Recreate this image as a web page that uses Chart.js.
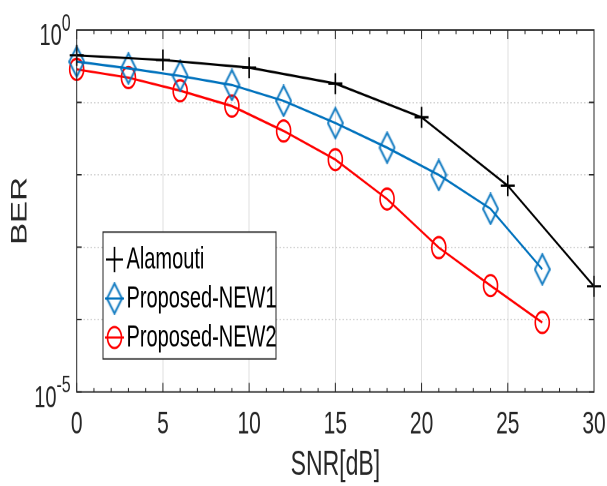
<!DOCTYPE html>
<html><head><meta charset="utf-8">
<script src="https://cdn.jsdelivr.net/npm/chart.js@4/dist/chart.umd.min.js"></script>
<style>
html,body{margin:0;padding:0;background:#fff;}
#wrap{width:607px;height:486px;position:relative;}
canvas{display:block;}
</style></head><body>
<div id="wrap"><canvas id="c" width="607" height="324"></canvas></div>
<script>
// ---- data ----
const snrAlamouti = [0, 5, 10, 15, 20, 25, 30];
const berAlamouti = [0.447, 0.385, 0.302, 0.182, 0.0622, 0.00708, 0.000288];
const snrProposed = [0, 3, 6, 9, 12, 15, 18, 21, 24, 27];
const berNew1 = [0.366, 0.295, 0.232, 0.174, 0.105, 0.0519, 0.0237, 0.00993, 0.00339, 0.000495];
const berNew2 = [0.286, 0.22, 0.145, 0.0891, 0.0403, 0.0162, 0.00463, 0.000986, 0.000295, 0.0000912];
const seriesNames = ['Alamouti', 'Proposed-NEW1', 'Proposed-NEW2'];
const xMajorStep = 5;
const yDecadeTicks = [1e-5, 1e-4, 1e-3, 1e-2, 1e-1, 1];
const yLabelTicks = [1, 1e-5];
const yLabelBase = '10';
const yLabelExponents = ['0', '-5'];
const xTitle = 'SNR[dB]';
const yTitle = 'BER';

const FONT = '"Liberation Sans", Arial, Helvetica, sans-serif';
Chart.defaults.font.family = FONT;
const AX = '#262626';

function diamondCanvas(color) {
  const w = 17, h = 22;
  const c = document.createElement('canvas');
  c.width = w; c.height = h;
  const g = c.getContext('2d');
  g.strokeStyle = color; g.lineWidth = 1.6;
  g.beginPath();
  g.moveTo(w / 2, 1); g.lineTo(w - 1, h / 2); g.lineTo(w / 2, h - 1); g.lineTo(1, h / 2); g.closePath();
  g.stroke();
  return c;
}
const diamond = diamondCanvas('#0072BD');

const toPts = (xs, ys) => xs.map((x, i) => ({x, y: ys[i]}));

const datasets = [
  {label: seriesNames[0], data: toPts(snrAlamouti, berAlamouti), borderColor: '#000000',
   pointStyle: 'cross', pointRadius: 7, pointBorderWidth: 1.6},
  {label: seriesNames[1], data: toPts(snrProposed, berNew1), borderColor: '#0072BD',
   pointStyle: diamond, pointRadius: 8, pointBorderWidth: 1.6},
  {label: seriesNames[2], data: toPts(snrProposed, berNew2), borderColor: '#FF0000',
   pointStyle: 'circle', pointRadius: 7, pointBorderWidth: 1.6}
].map(d => Object.assign({
  borderWidth: 1.6, pointBackgroundColor: 'rgba(0,0,0,0)', pointBorderColor: d.borderColor,
  backgroundColor: 'rgba(0,0,0,0)', tension: 0, clip: false, showLine: true, fill: false
}, d));

const boxPlugin = {
  id: 'boxPlugin',
  afterDraw(chart) {
    const {ctx, chartArea: a, scales: {x, y}} = chart;
    ctx.save();
    ctx.strokeStyle = AX; ctx.lineWidth = 1;
    ctx.strokeRect(a.left, a.top, a.width, a.height);
    ctx.beginPath();
    x.ticks.forEach(t => {
      const px = x.getPixelForValue(t.value);
      const L = t.value % xMajorStep === 0 ? 6 : 2.7;
      ctx.moveTo(px, a.bottom); ctx.lineTo(px, a.bottom - L);
      ctx.moveTo(px, a.top); ctx.lineTo(px, a.top + L);
    });
    y.ticks.forEach(t => {
      const py = y.getPixelForValue(t.value);
      ctx.moveTo(a.left, py); ctx.lineTo(a.left + 5, py);
      ctx.moveTo(a.right, py); ctx.lineTo(a.right - 5, py);
    });
    ctx.stroke();

    // y tick labels 10^n
    ctx.fillStyle = AX;
    ctx.textBaseline = 'middle';
    ctx.textAlign = 'right';
    yLabelTicks.forEach((v, i) => {
      const py = y.getPixelForValue(v);
      const rx = a.left - 6;
      ctx.font = '16px ' + FONT;
      const ew = ctx.measureText(yLabelExponents[i]).width;
      ctx.fillText(yLabelExponents[i], rx, py + 4.5 - 8.5);
      ctx.font = '20px ' + FONT;
      ctx.fillText(yLabelBase, rx - ew, py + 4.5);
    });

    // legend
    const lx0 = 103, lx1 = 276, ly0 = 154.7, ly1 = 239.3;
    ctx.fillStyle = '#ffffff';
    ctx.fillRect(lx0, ly0, lx1 - lx0, ly1 - ly0);
    ctx.strokeStyle = AX; ctx.lineWidth = 1;
    ctx.strokeRect(lx0, ly0, lx1 - lx0, ly1 - ly0);
    const rows = [173, 199, 225];
    chart.data.datasets.forEach((ds, i) => {
      const yy = rows[i];
      ctx.strokeStyle = ds.borderColor; ctx.lineWidth = ds.borderWidth;
      if (i > 0) {
        ctx.beginPath(); ctx.moveTo(105, yy); ctx.lineTo(124, yy); ctx.stroke();
      }
      ctx.fillStyle = 'rgba(0,0,0,0)';
      Chart.helpers.drawPoint(ctx, {pointStyle: ds.pointStyle, radius: ds.pointRadius + (i === 0 ? 1.5 : 0),
        borderWidth: ds.pointBorderWidth, rotation: 0}, 114.5, yy);
      ctx.fillStyle = '#000000';
      ctx.font = '20px ' + FONT;
      ctx.textAlign = 'left'; ctx.textBaseline = 'middle';
      ctx.fillText(ds.label, 126.5, yy + 0.5);
    });
    ctx.restore();
  }
};

const canvas = document.getElementById('c');
new Chart(canvas, {
  type: 'line',
  data: {datasets},
  plugins: [boxPlugin],
  options: {
    responsive: false, animation: false, devicePixelRatio: 2,
    layout: {padding: {top: 20, right: 13, bottom: 0, left: 0}},
    plugins: {legend: {display: false}, tooltip: {enabled: false}},
    scales: {
      x: {
        type: 'linear', min: 0, max: 30,
        afterFit: s => { s.height = 62.7; s.paddingLeft = 0; s.paddingRight = 0; },
        ticks: {stepSize: 1, autoSkip: false, maxRotation: 0, padding: 9.5, color: AX,
          font: {size: 21},
          callback: v => (v % xMajorStep === 0 ? String(v) : '')},
        grid: {drawTicks: false, lineWidth: 1,
          color: c => (c.tick && c.tick.value % xMajorStep === 0 && c.tick.value > 0 && c.tick.value < 30) ? '#dedede' : 'rgba(0,0,0,0)'},
        border: {display: false},
        title: {display: true, text: xTitle, color: AX, font: {size: 23}, padding: {top: 0, bottom: 0}}
      },
      y: {
        type: 'logarithmic', min: 1e-5, max: 1,
        afterBuildTicks: s => { s.ticks = yDecadeTicks.map(v => ({value: v})); },
        afterFit: s => { s.width = 76.7; s.paddingTop = 0; s.paddingBottom = 0; },
        ticks: {display: false},
        grid: {drawTicks: false, lineWidth: 1, borderDash: [1.5, 2],
          color: c => (c.tick && c.tick.value < 0.9 && c.tick.value > 1.1e-5) ? '#d4d4d4' : 'rgba(0,0,0,0)'},
        border: {display: false, dash: [1.5, 2]},
        title: {display: true, text: yTitle, color: AX, font: {size: 22}, padding: {top: 7, bottom: 0}}
      }
    }
  }
});
// stretch vertically by 1.5 like the reference figure
canvas.style.width = '607px';
canvas.style.height = '486px';
</script>
</body></html>
